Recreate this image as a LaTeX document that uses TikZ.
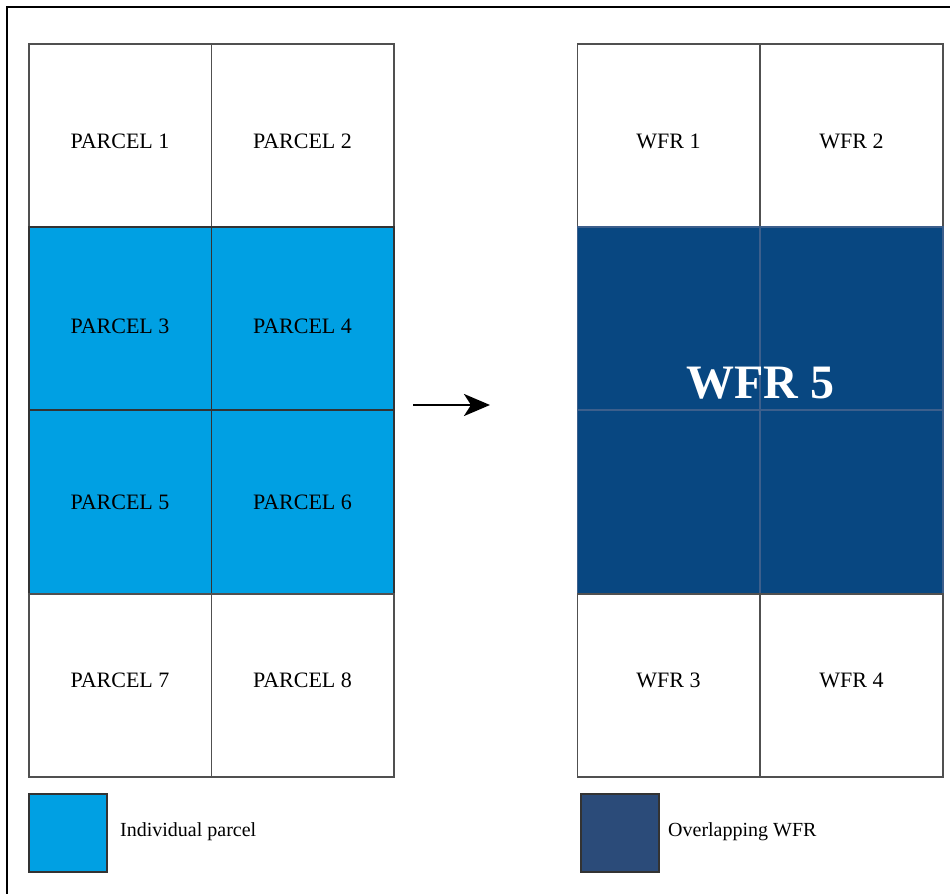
\documentclass[tikz,border=0pt]{standalone}
\usepackage{fontspec}
\setmainfont{Liberation Serif}
\usetikzlibrary{arrows.meta}

\definecolor{gridgray}{HTML}{505050}
\definecolor{parcelblue}{HTML}{00A0E3}
\definecolor{wfrblue}{HTML}{084781}
\definecolor{wfrline}{HTML}{3C5F8C}
\definecolor{legendblue}{HTML}{2B4B79}

\begin{document}
\begin{tikzpicture}[
        x=1pt, y=-1pt, % 坐标按像素计, y 轴向下
        cell/.style={
            draw=gridgray, % 边框
            line width=1.5pt, % 线宽
            minimum width=182.5pt, % 宽度
            minimum height=183pt, % 高度
            inner sep=0, % 内边距为 0
            font=\fontsize{22}{24}\selectfont % 字体大小
        },
        parcel/.style={cell, fill=parcelblue, draw=black!80},
        wfr/.style={cell, fill=wfrblue, draw=wfrline},
        row1/.style={text height=27pt}, % 文字略往下
        row2/.style={text height=31pt},
        row4/.style={text depth=10pt}, % 文字略往上
        legendbox/.style={draw=black!80, line width=1.2pt, minimum width=78pt, minimum height=78pt, inner sep=0},
        legendtext/.style={anchor=west, inner sep=0, font=\fontsize{20}{24}\selectfont}
    ]
    \useasboundingbox (0,0) rectangle (950,894);

    % 外框 (只有上边和左边)
    \draw[line width=2.5pt] (950,7) -- (7,7) -- (7,894);

    % 左侧: 八个地块
    \node[cell, row1]   (p1) at (120,135.5)   {PARCEL 1};
    \node[cell, row1]   (p2) at (302.5,135.5) {PARCEL 2};
    \node[parcel, row2] (p3) at (120,318.5)   {PARCEL 3};
    \node[parcel, row2] (p4) at (302.5,318.5) {PARCEL 4};
    \node[parcel]       (p5) at (120,502)     {PARCEL 5};
    \node[parcel]       (p6) at (302.5,502)   {PARCEL 6};
    \node[cell, row4]   (p7) at (120,685.5)   {PARCEL 7};
    \node[cell, row4]   (p8) at (302.5,685.5) {PARCEL 8};

    % 右侧: WFR
    \node[cell, row1] (w1) at (668.5,135.5) {WFR 1};
    \node[cell, row1] (w2) at (851.5,135.5) {WFR 2};
    \node[wfr]  (w5a) at (668.5,318.5) {};
    \node[wfr]  (w5b) at (851.5,318.5) {};
    \node[wfr]  (w5c) at (668.5,502)   {};
    \node[wfr]  (w5d) at (851.5,502)   {};
    \node[cell, row4] (w3) at (668.5,685.5) {WFR 3};
    \node[cell, row4] (w4) at (851.5,685.5) {WFR 4};
    \node[text=white, inner sep=0, font=\fontsize{48}{52}\selectfont\bfseries]
        (w5) at (760,383) {WFR 5};

    % 箭头
    \coordinate (a0) at (413,405);
    \coordinate (a1) at (490,405);
    \draw[line width=2.8pt, -{Stealth[length=26pt, width=22pt, inset=7pt]}] (a0) -- (a1);

    % 图例
    \node[legendbox, fill=parcelblue] (l1) at (68,833) {};
    \node[legendtext] (t1) at (120,832) {Individual parcel};
    \node[legendbox, fill=legendblue] (l2) at (620,833) {};
    \node[legendtext] (t2) at (668,832) {Overlapping WFR};
\end{tikzpicture}
\end{document}
